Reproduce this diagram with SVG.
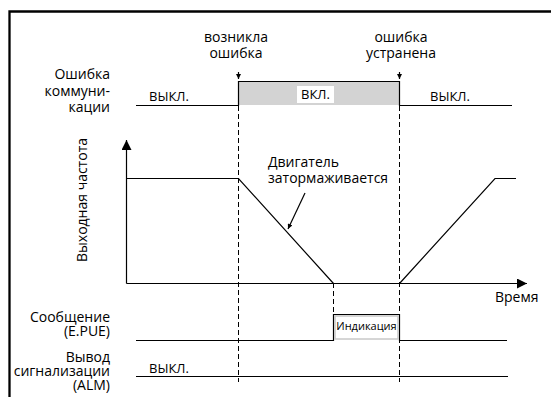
<svg xmlns="http://www.w3.org/2000/svg" width="551" height="403" viewBox="0 0 551 403">
<defs>
<style>
text{font-family:"Open Sans","Noto Sans","Liberation Sans",sans-serif;fill:#000;font-size:14px}
.r{text-anchor:end}
.m{text-anchor:middle}
.s{font-size:13px}
.ln{fill:none;stroke:#000;stroke-width:1.2}
.dash{fill:none;stroke:#000;stroke-width:1;stroke-dasharray:5 3}
</style>
<marker id="big" viewBox="0 0 10 10" refX="10" refY="5" markerWidth="10" markerHeight="10" markerUnits="userSpaceOnUse" orient="auto"><path d="M0,0L10,5L0,10z" fill="#000"/></marker>
<marker id="sm" viewBox="0 0 10 10" refX="10" refY="5" markerWidth="6" markerHeight="5" markerUnits="userSpaceOnUse" orient="auto"><path d="M0,0L10,5L0,10z" fill="#000"/></marker>
</defs>
<rect width="551" height="403" fill="#fff"/>
<path d="M9.5,397V11.5H551" fill="none" stroke="#000" stroke-width="2.3"/>

<g id="connectors">
<line class="dash" x1="238.5" y1="106" x2="238.5" y2="382"/>
<line class="dash" x1="399.5" y1="106" x2="399.5" y2="382"/>
<line class="dash" x1="333.5" y1="283" x2="333.5" y2="314"/>
<line class="ln" x1="238.5" y1="72" x2="238.5" y2="79" marker-end="url(#sm)" stroke-width="1"/>
<line class="ln" x1="399.5" y1="72" x2="399.5" y2="79" marker-end="url(#sm)" stroke-width="1"/>
<line class="ln" x1="305" y1="193" x2="288" y2="229" marker-end="url(#sm)" stroke-width="1"/>
</g>

<g id="comm-error">
<text class="r" x="110" y="79">Ошибка</text>
<text class="r" x="110" y="96">коммуни-</text>
<text class="r" x="110" y="112">кации</text>
<rect x="238.5" y="81.5" width="161" height="23.5" fill="#d3d3d3"/>
<path class="ln" d="M136,105.5H238.5V81.5H399.5V105.5H512"/>
<rect x="297" y="86" width="37" height="17" fill="#fff"/>
<text class="m s" x="315.5" y="99">ВКЛ.</text>
<text class="s" x="149" y="101">ВЫКЛ.</text>
<text class="s" x="430" y="101">ВЫКЛ.</text>
</g>

<g id="event-labels">
<text class="m" x="236" y="42">возникла</text>
<text class="m" x="236" y="58">ошибка</text>
<text class="m" x="401" y="42">ошибка</text>
<text class="m" x="401" y="58">устранена</text>
</g>

<g id="frequency">
<text class="m" transform="translate(87,200) rotate(-90)">Выходная частота</text>
<line class="ln" x1="126.5" y1="283.5" x2="126.5" y2="140" marker-end="url(#big)"/>
<line class="ln" x1="126.5" y1="283.5" x2="527" y2="283.5" marker-end="url(#big)"/>
<path class="ln" d="M126.5,178.5H238.5L333.5,283.5"/>
<path class="ln" d="M399.5,283.5L495,178.5H516"/>
<text x="268" y="167">Двигатель</text>
<text x="268" y="183">затормаживается</text>
<text x="495" y="302">Время</text>
</g>

<g id="message">
<text class="r" x="110" y="322">Сообщение</text>
<text class="r" x="110" y="336">(E.PUE)</text>
<path class="ln" d="M136,340.5H333.5V314.5H399.5V340.5H507"/>
<rect x="335" y="316" width="63" height="23" fill="#fff" stroke="#c8c8c8" stroke-width="1.5"/>
<text class="m" x="366.5" y="330" style="font-size:11px">Индикация</text>
</g>

<g id="alarm">
<text class="r" x="110" y="362">Вывод</text>
<text class="r" x="110" y="376">сигнализации</text>
<text class="r" x="110" y="390">(ALM)</text>
<text class="s" x="149" y="373">ВЫКЛ.</text>
<line class="ln" x1="136" y1="376.5" x2="508" y2="376.5"/>
</g>
</svg>
